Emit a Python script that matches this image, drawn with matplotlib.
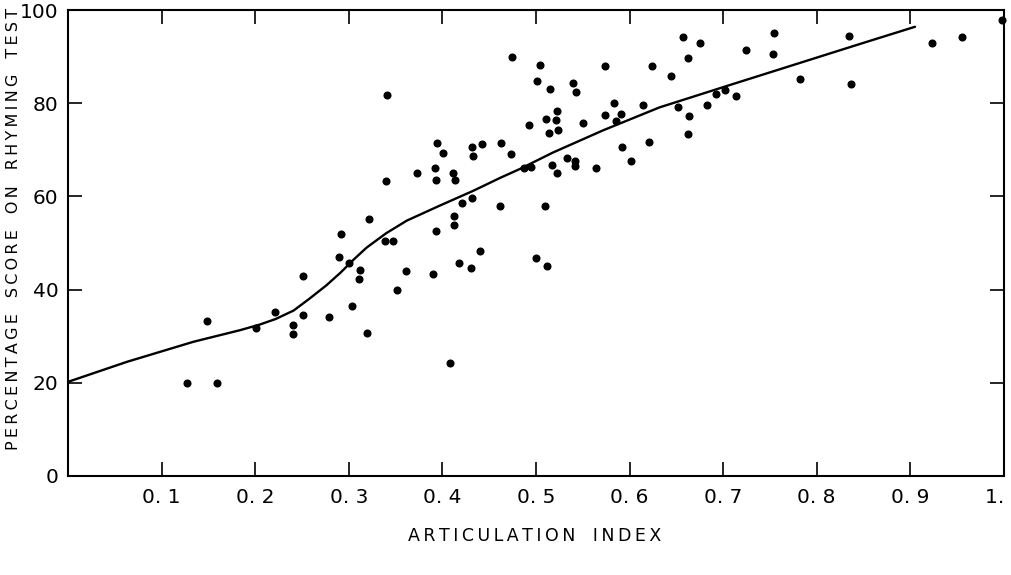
import matplotlib
matplotlib.use("Agg")
import matplotlib.pyplot as plt
import numpy as np

plt.rcParams['font.family'] = ['DejaVu Sans']

# articulation index vs rhyming test score
ai = [0.127, 0.148, 0.159, 0.201, 0.221, 0.240, 0.240, 0.251, 0.251, 0.279,
      0.290, 0.292, 0.300, 0.303, 0.311, 0.312, 0.320, 0.322, 0.341, 0.340,
      0.339, 0.347, 0.351, 0.361, 0.373, 0.390, 0.393, 0.392, 0.393, 0.394,
      0.401, 0.408, 0.411, 0.413, 0.412, 0.412, 0.418, 0.421, 0.432, 0.431,
      0.440, 0.432, 0.433, 0.442, 0.462, 0.463, 0.473, 0.474, 0.487, 0.495,
      0.493, 0.501, 0.504, 0.500, 0.512, 0.510, 0.515, 0.511, 0.514, 0.517,
      0.522, 0.523, 0.521, 0.524, 0.533, 0.540, 0.543, 0.542, 0.542, 0.550,
      0.564, 0.574, 0.574, 0.583, 0.585, 0.591, 0.592, 0.602, 0.614, 0.621,
      0.624, 0.644, 0.657, 0.652, 0.663, 0.662, 0.662, 0.675, 0.683, 0.692,
      0.702, 0.714, 0.724, 0.754, 0.753, 0.782, 0.835, 0.837, 0.923, 0.955,
      0.998]
score = [20.0, 33.3, 20.0, 31.8, 35.2, 32.5, 30.5, 43.0, 34.6, 34.2,
         47.1, 51.9, 45.7, 36.5, 42.3, 44.2, 30.6, 55.1, 81.7, 63.3,
         50.5, 50.5, 39.9, 44.0, 65.1, 43.3, 52.6, 66.0, 63.5, 71.5,
         69.3, 24.3, 65.1, 63.5, 55.9, 53.8, 45.6, 58.6, 59.7, 44.6,
         48.3, 70.5, 68.6, 71.2, 58.0, 71.5, 69.2, 90.0, 66.2, 66.4,
         75.3, 84.7, 88.1, 46.8, 45.1, 57.9, 83.1, 76.6, 73.5, 66.7,
         65.1, 78.3, 76.5, 74.3, 68.3, 84.3, 82.5, 67.7, 66.6, 75.8,
         66.0, 88.0, 77.5, 80.1, 76.2, 77.6, 70.5, 67.5, 79.6, 71.7,
         88.0, 85.8, 94.3, 79.1, 77.2, 73.4, 89.7, 93.0, 79.6, 81.9,
         82.9, 81.6, 91.5, 95.0, 90.6, 85.3, 94.4, 84.2, 93.0, 94.3,
         97.9]

# fitted curve drawn by hand in the original
curve_x = [0.0, 0.063, 0.134, 0.184, 0.205, 0.222, 0.241, 0.257, 0.276, 0.291,
           0.305, 0.319, 0.340, 0.362, 0.397, 0.433, 0.462, 0.483, 0.518, 0.572,
           0.632, 0.704, 0.775, 0.846, 0.905]
curve_y = [20.2, 24.5, 28.8, 31.3, 32.5, 33.7, 35.5, 37.9, 40.9, 43.6,
           46.4, 49.0, 52.1, 54.8, 58.0, 61.2, 64.0, 65.9, 69.4, 74.2,
           79.1, 83.7, 88.2, 92.7, 96.4]

xticks = [0.1, 0.2, 0.3, 0.4, 0.5, 0.6, 0.7, 0.8, 0.9, 1.0]
xlabels = ["0. 1", "0. 2", "0. 3", "0. 4", "0. 5",
           "0. 6", "0. 7", "0. 8", "0. 9", "1. 0"]
yticks = [0, 20, 40, 60, 80, 100]


def spaced(text):
    # wide letter spacing like the typeset original
    words = text.split(" ")
    return "\u2003".join("\u2009".join(w) for w in words)


fig = plt.figure(figsize=(10.12, 5.75), dpi=100)
ax = fig.add_axes([0.0672, 0.1722, 0.9248, 0.8104])

ax.plot(curve_x, curve_y, color='black', lw=1.7, solid_capstyle='round',
        solid_joinstyle='round')
ax.plot(ai, score, 'o', color='black', ms=4.8, clip_on=False)

ax.set_xlim(0, 1.0)
ax.set_ylim(0, 100)
ax.set_xticks(xticks)
ax.set_xticklabels(xlabels)
ax.set_yticks(yticks)
ax.tick_params(direction='in', length=10, width=1.2, top=True, right=True,
               labelsize=14.5, pad=7, colors='black')
ax.tick_params(axis='x', pad=9)
for s in ax.spines.values():
    s.set_linewidth(1.5)

fig.text(0.528, 0.068, spaced("ARTICULATION INDEX"), ha='center', va='center',
         fontsize=12.5)
fig.text(0.013, 0.602, spaced("PERCENTAGE SCORE ON RHYMING TEST"),
         ha='center', va='center', rotation=90, fontsize=11.5)

fig.savefig("out.png", dpi=100)
